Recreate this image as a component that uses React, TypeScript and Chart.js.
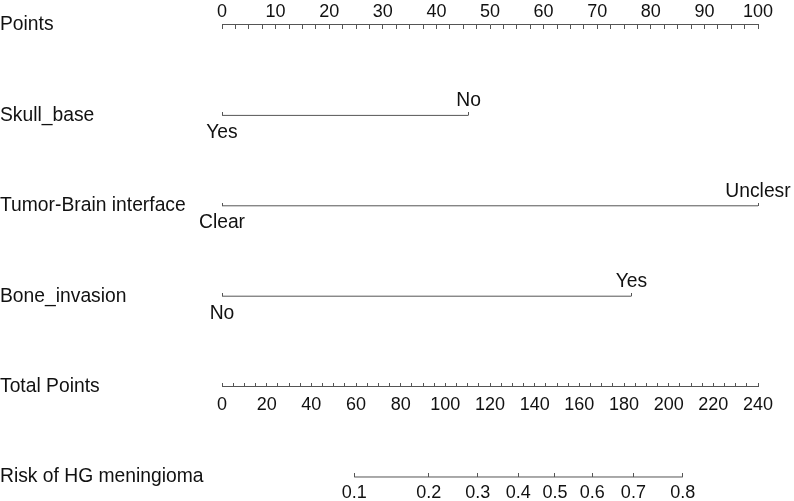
import React, { useEffect, useRef } from "react";
import { Chart, registerables } from "chart.js";

Chart.register(...registerables);

// ---- data ----
const rowNames = [
  "Points",
  "Skull_base",
  "Tumor-Brain interface",
  "Bone_invasion",
  "Total Points",
  "Risk of HG meningioma",
];

const pointsTickLabels = [0, 10, 20, 30, 40, 50, 60, 70, 80, 90, 100];
const pointsMinorStep = 2.5;

const skullLevels = ["Yes", "No"];
const skullPoints = [0, 46];

const interfaceLevels = ["Clear", "Unclesr"];
const interfacePoints = [0, 100];

const boneLevels = ["No", "Yes"];
const bonePoints = [0, 76.4];

const totalTickLabels = [0, 20, 40, 60, 80, 100, 120, 140, 160, 180, 200, 220, 240];
const totalMinorStep = 5;

const riskTickLabels = ["0.1", "0.2", "0.3", "0.4", "0.5", "0.6", "0.7", "0.8"];
const riskTickTotalPoints = [59.2, 92.6, 114.5, 132.7, 149.1, 165.8, 184.2, 206.3];

// ---- styling ----
const FONT = "'Liberation Sans', Arial, Helvetica, sans-serif";
const LINE = "#555555";
const TEXT = "#111111";

function minorTicks(max: number, step: number, labels: number[]) {
  const vals: number[] = [];
  for (let v = 0; v <= max + 1e-9; v += step) vals.push(+v.toFixed(4));
  const labs = vals.map((v) => (labels.some((l) => Math.abs(l - v) < 1e-6) ? String(v) : ""));
  return { vals, labs };
}

function axis(
  row: number,
  max: number,
  values: number[],
  labels: string[],
  tickLength: number,
  padding: number,
  fontSize: number,
  showBorder: boolean
) {
  return {
    type: "linear",
    axis: "x",
    position: { y: row },
    min: 0,
    max,
    bounds: "data",
    grid: {
      display: true,
      drawOnChartArea: false,
      drawTicks: true,
      tickLength,
      color: LINE,
      lineWidth: 1,
    },
    border: { display: showBorder, color: LINE, width: 1 },
    ticks: {
      autoSkip: false,
      maxRotation: 0,
      minRotation: 0,
      padding,
      color: TEXT,
      font: { family: FONT, size: fontSize },
      callback: (_v: any, i: number) => labels[i],
    },
    afterBuildTicks: (s: any) => {
      s.ticks = values.map((v) => ({ value: v }));
    },
  };
}

export default function App() {
  const ref = useRef<HTMLCanvasElement | null>(null);

  useEffect(() => {
    if (!ref.current) return;
    const pts = minorTicks(100, pointsMinorStep, pointsTickLabels);
    const tot = minorTicks(240, totalMinorStep, totalTickLabels);

    const chart = new Chart(ref.current, {
      type: "line",
      data: {
        datasets: [
          {
            data: [
              { x: skullPoints[0], y: 1 },
              { x: skullPoints[1], y: 1 },
            ],
            xAxisID: "x",
            yAxisID: "y",
          },
          {
            data: [
              { x: interfacePoints[0], y: 2 },
              { x: interfacePoints[1], y: 2 },
            ],
            xAxisID: "x",
            yAxisID: "y",
          },
          {
            data: [
              { x: bonePoints[0], y: 3 },
              { x: bonePoints[1], y: 3 },
            ],
            xAxisID: "x",
            yAxisID: "y",
          },
          {
            data: [
              { x: riskTickTotalPoints[0], y: 5 },
              { x: riskTickTotalPoints[riskTickTotalPoints.length - 1], y: 5 },
            ],
            xAxisID: "xt",
            yAxisID: "y",
          },
        ].map((d) => ({
          ...d,
          borderColor: LINE,
          borderWidth: 1,
          pointRadius: 0,
          fill: false,
          tension: 0,
        })),
      },
      options: {
        responsive: false,
        animation: false,
        devicePixelRatio: 1,
        layout: { padding: { left: 0, right: 36, top: 0, bottom: 0 } },
        plugins: { legend: { display: false }, tooltip: { enabled: false } },
        scales: {
          y: {
            type: "linear",
            position: "left",
            reverse: true,
            min: -0.2765,
            max: 5.2655,
            bounds: "data",
            grid: { display: false },
            border: { display: false },
            ticks: {
              autoSkip: false,
              crossAlign: "far",
              padding: 0,
              color: TEXT,
              font: { family: FONT, size: 19.3 },
              callback: (_v: any, i: number) => rowNames[i],
            },
            afterBuildTicks: (s: any) => {
              s.ticks = rowNames.map((_n, i) => ({ value: i }));
            },
            afterFit: (s: any) => {
              s.width = 222;
              s.paddingTop = 0;
              s.paddingBottom = 0;
            },
          },
          x: axis(0, 100, pts.vals, pts.labs, 4, -27.4, 18, true),
          xs1: axis(1, 100, [skullPoints[0]], [skullLevels[0]], -3, 8.6, 19.3, false),
          xs2: axis(1, 100, [skullPoints[1]], [skullLevels[1]], -3, -23, 19.3, false),
          xi1: axis(2, 100, [interfacePoints[0]], [interfaceLevels[0]], -3, 8.6, 19.3, false),
          xi2: axis(2, 100, [interfacePoints[1]], [interfaceLevels[1]], -3, -23, 19.3, false),
          xb1: axis(3, 100, [bonePoints[0]], [boneLevels[0]], -3, 8.6, 19.3, false),
          xb2: axis(3, 100, [bonePoints[1]], [boneLevels[1]], -3, -23, 19.3, false),
          xt: axis(4, 240, tot.vals, tot.labs, -4, 11.4, 18, true),
          xr: axis(5, 240, riskTickTotalPoints, riskTickLabels, -4, 9.5, 18, false),
        } as any,
      },
    } as any);
    return () => chart.destroy();
  }, []);

  return (
    <div style={{ position: "absolute", left: 0, top: 0, width: 794, height: 501, background: "#fff" }}>
      <canvas ref={ref} width={794} height={501} style={{ display: "block" }} />
    </div>
  );
}
